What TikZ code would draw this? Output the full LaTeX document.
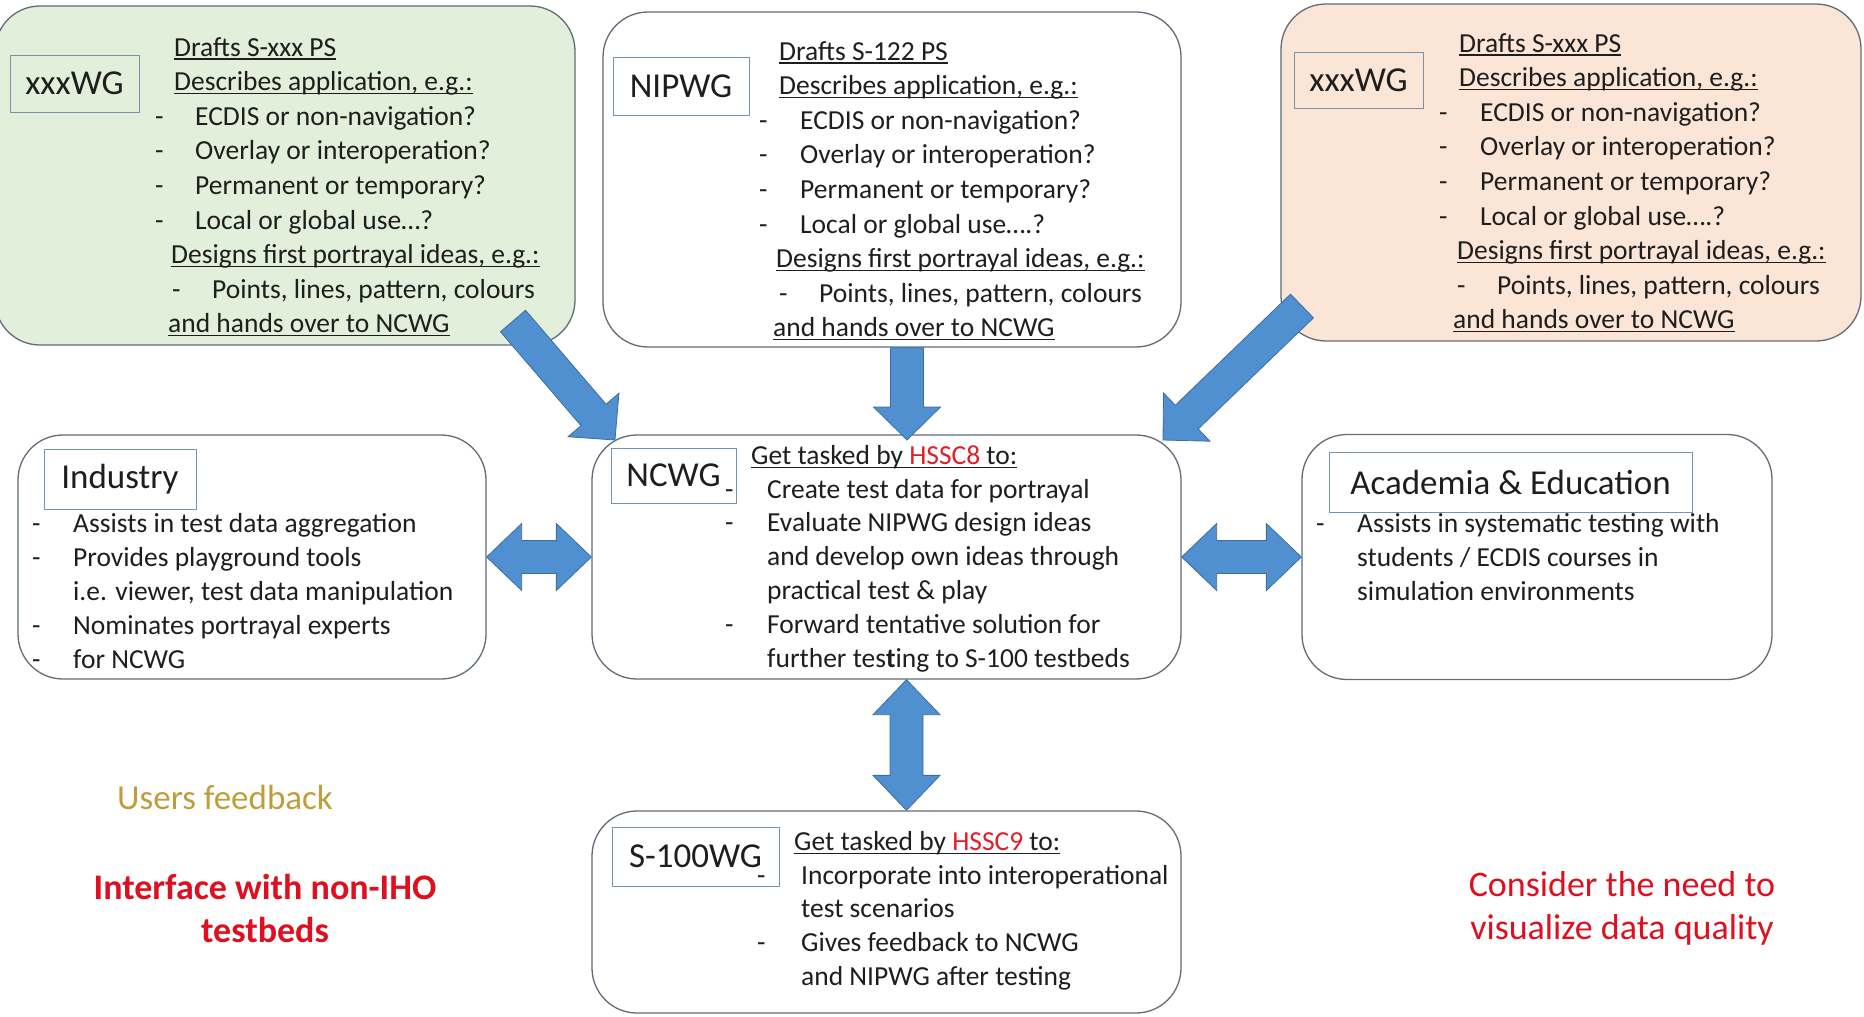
\documentclass[tikz,border=0pt]{standalone}
\usepackage{fontspec}
\setmainfont{Carlito}
\usetikzlibrary{calc}

\definecolor{boxline}{RGB}{96,108,120}
\definecolor{tagline}{RGB}{120,146,172}
\definecolor{greenfill}{RGB}{226,239,218}
\definecolor{peachfill}{RGB}{251,229,214}
\definecolor{arrowfill}{RGB}{80,143,208}
\definecolor{arrowline}{RGB}{60,110,160}
\definecolor{txt}{RGB}{30,30,30}
\definecolor{hssc}{RGB}{226,30,40}
\definecolor{userfb}{RGB}{191,158,58}
\definecolor{alert}{RGB}{222,16,32}

% dash item, underlined header
\newcommand{\itm}[2][40pt]{\makebox[#1][l]{-}#2}
\newcommand{\undl}[1]{\setbox0\hbox{#1}\rlap{\rule[-3.5pt]{\wd0}{1.1pt}}\box0}
\newcommand{\hdr}[2]{\hspace*{#1}\undl{#2}}

% block arrows between boxes
\newcommand{\onewayarrow}[2]{%
  \coordinate (hb) at ($(#2)!33pt!(#1)$);
  \filldraw[blockarr] ($(#1)!16.5pt!90:(#2)$) -- ($(hb)!16.5pt!90:(#2)$) -- ($(hb)!33.5pt!90:(#2)$) -- (#2) -- ($(hb)!33.5pt!-90:(#2)$) -- ($(hb)!16.5pt!-90:(#2)$) -- ($(#1)!16.5pt!-90:(#2)$) -- cycle;}
\newcommand{\twowayarrow}[2]{%
  \coordinate (ha) at ($(#1)!35pt!(#2)$);
  \coordinate (hb) at ($(#2)!35pt!(#1)$);
  \filldraw[blockarr] (#1) -- ($(ha)!33.5pt!90:(#2)$) -- ($(ha)!16.5pt!90:(#2)$) -- ($(hb)!16.5pt!-90:(#1)$) -- ($(hb)!33.5pt!-90:(#1)$) -- (#2) -- ($(hb)!33.5pt!90:(#1)$) -- ($(hb)!16.5pt!90:(#1)$) -- ($(ha)!16.5pt!-90:(#2)$) -- ($(ha)!33.5pt!-90:(#2)$) -- cycle;}

\tikzset{
  bigbox/.style={draw=boxline, line width=1.3pt, rounded corners=45pt, inner sep=0pt},
  tagbox/.style={draw=tagline, line width=1pt, inner sep=0pt, text=txt, font=\fontsize{35}{42}\selectfont},
  body/.style={anchor=north west, inner sep=0pt, align=left, text=txt, font=\fontsize{27.5}{34.6}\selectfont},
  note/.style={align=center, inner sep=0pt, font=\fontsize{35}{43}\selectfont},
  blockarr/.style={fill=arrowfill, draw=arrowline, line width=0.8pt},
}

\begin{document}
\begin{tikzpicture}[x=1pt,y=1pt,yscale=-1,xscale=1]
\useasboundingbox (0,0) rectangle (1864,1017);

%Shape: Rounded Rect [xxxWG, green]
\node[bigbox, fill=greenfill, minimum width=580, minimum height=339] (xxxwgA) at (285,175.5) {};
%Shape: Rounded Rect [NIPWG]
\node[bigbox, fill=white, minimum width=578, minimum height=335] (nipwg) at (892,179.5) {};
%Shape: Rounded Rect [xxxWG, peach]
\node[bigbox, fill=peachfill, minimum width=580, minimum height=337] (xxxwgB) at (1571,172.5) {};
%Shape: Rounded Rect [Industry]
\node[bigbox, minimum width=468, minimum height=244] (industry) at (252,557) {};
%Shape: Rounded Rect [NCWG]
\node[bigbox, minimum width=589, minimum height=244] (ncwg) at (886.5,557) {};
%Shape: Rounded Rect [Academia]
\node[bigbox, minimum width=470, minimum height=245] (acad) at (1537,557) {};
%Shape: Rounded Rect [S-100WG]
\node[bigbox, minimum width=589, minimum height=202] (s100) at (886.5,912) {};

% Tags
\node[tagbox, minimum width=129, minimum height=57] (xxxwgA-tag) at (74.5,83.5) {xxxWG};
\node[tagbox, minimum width=136, minimum height=58] (nipwg-tag) at (681,86) {NIPWG};
\node[tagbox, minimum width=129, minimum height=56] (xxxwgB-tag) at (1358.5,80) {xxxWG};
\node[tagbox, minimum width=152, minimum height=60] (industry-tag) at (120,479) {Industry};
\node[tagbox, minimum width=125, minimum height=55] (ncwg-tag) at (673.5,475.5) {NCWG};
\node[tagbox, minimum width=363, minimum height=60] (acad-tag) at (1510.5,482) {Academia \& Education};
\node[tagbox, minimum width=167, minimum height=59] (s100-tag) at (695.5,856.5) {S-100WG};

% Text Node
\node[body] (xxxwgA-txt) at (155,37) {%
\hdr{19pt}{Drafts S-xxx PS}\\
\hdr{19pt}{Describes application, e.g.:}\\
\itm{ECDIS or non-navigation?}\\
\itm{Overlay or interoperation?}\\
\itm{Permanent or temporary?}\\
\itm{Local or global use…?}\\
\hdr{16pt}{Designs first portrayal ideas, e.g.:}\\
\hspace*{17pt}\itm{Points, lines, pattern, colours}\\
\hdr{13pt}{and hands over to NCWG}};
% Text Node
\node[body] (nipwg-txt) at (759,41) {%
\hdr{20pt}{Drafts S-122 PS}\\
\hdr{20pt}{Describes application, e.g.:}\\
\itm[41pt]{ECDIS or non-navigation?}\\
\itm[41pt]{Overlay or interoperation?}\\
\itm[41pt]{Permanent or temporary?}\\
\itm[41pt]{Local or global use….?}\\
\hdr{17pt}{Designs first portrayal ideas, e.g.:}\\
\hspace*{20pt}\itm{Points, lines, pattern, colours}\\
\hdr{14pt}{and hands over to NCWG}};
% Text Node
\node[body] (xxxwgB-txt) at (1439,33) {%
\hdr{20pt}{Drafts S-xxx PS}\\
\hdr{20pt}{Describes application, e.g.:}\\
\itm[41pt]{ECDIS or non-navigation?}\\
\itm[41pt]{Overlay or interoperation?}\\
\itm[41pt]{Permanent or temporary?}\\
\itm[41pt]{Local or global use….?}\\
\hdr{18pt}{Designs first portrayal ideas, e.g.:}\\
\hspace*{18pt}\itm{Points, lines, pattern, colours}\\
\hdr{14pt}{and hands over to NCWG}};
% Text Node
\node[body, font=\fontsize{27.5}{34}\selectfont] (industry-txt) at (32,513) {%
\itm[41pt]{Assists in test data aggregation}\\
\itm[41pt]{Provides playground tools}\\
\hspace*{41pt}i.e. viewer, test data manipulation\\
\itm[41pt]{Nominates portrayal experts}\\
\itm[41pt]{for NCWG}};
% Text Node
\node[body, font=\fontsize{27.5}{33.8}\selectfont] (ncwg-txt) at (725,445) {%
\hdr{26pt}{Get tasked by \textcolor{hssc}{HSSC8} to:}\\
\itm[42pt]{Create test data for portrayal}\\
\itm[42pt]{Evaluate NIPWG design ideas}\\
\hspace*{42pt}and develop own ideas through\\
\hspace*{42pt}practical test \& play\\
\itm[42pt]{Forward tentative solution for}\\
\hspace*{42pt}further tes\textbf{t}ing to S-100 testbeds};
% Text Node
\node[body, font=\fontsize{27.5}{34}\selectfont] (acad-txt) at (1316,513) {%
\itm[41pt]{Assists in systematic testing with}\\
\hspace*{41pt}students / ECDIS courses in\\
\hspace*{41pt}simulation environments};
% Text Node
\node[body, font=\fontsize{27.5}{33.8}\selectfont] (s100-txt) at (757,831) {%
\hdr{37pt}{Get tasked by \textcolor{hssc}{HSSC9} to:}\\
\itm[44pt]{Incorporate into interoperational}\\
\hspace*{44pt}test scenarios\\
\itm[44pt]{Gives feedback to NCWG}\\
\hspace*{44pt}and NIPWG after testing};

% Text Node
\node[note, text=userfb] (users) at (225,797) {Users feedback};
% Text Node
\node[note, text=alert, font=\fontsize{36}{43}\selectfont\bfseries] (nonIHO) at (265,908) {Interface with non-IHO\\testbeds};
% Text Node
\node[note, text=alert, font=\fontsize{36}{43}\selectfont] (quality) at (1622,908) {Consider the need to\\visualize data quality};

% Arrows
\coordinate (a-tail) at (513,321);
\coordinate (a-tip) at (615,440);
\coordinate (n-tail) at ([xshift=15pt]nipwg.south);
\coordinate (n-tip) at (907,440);
\coordinate (b-tail) at (1302,306);
\coordinate (b-tip) at (1163,440);
\coordinate (ncwg-s) at ([xshift=20pt]ncwg.south);
\coordinate (s100-n) at ([xshift=20pt]s100.north);
\onewayarrow{a-tail}{a-tip}
\onewayarrow{n-tail}{n-tip}
\onewayarrow{b-tail}{b-tip}
\twowayarrow{industry.east}{ncwg.west}
\twowayarrow{ncwg.east}{acad.west}
\twowayarrow{ncwg-s}{s100-n}

\end{tikzpicture}
\end{document}
